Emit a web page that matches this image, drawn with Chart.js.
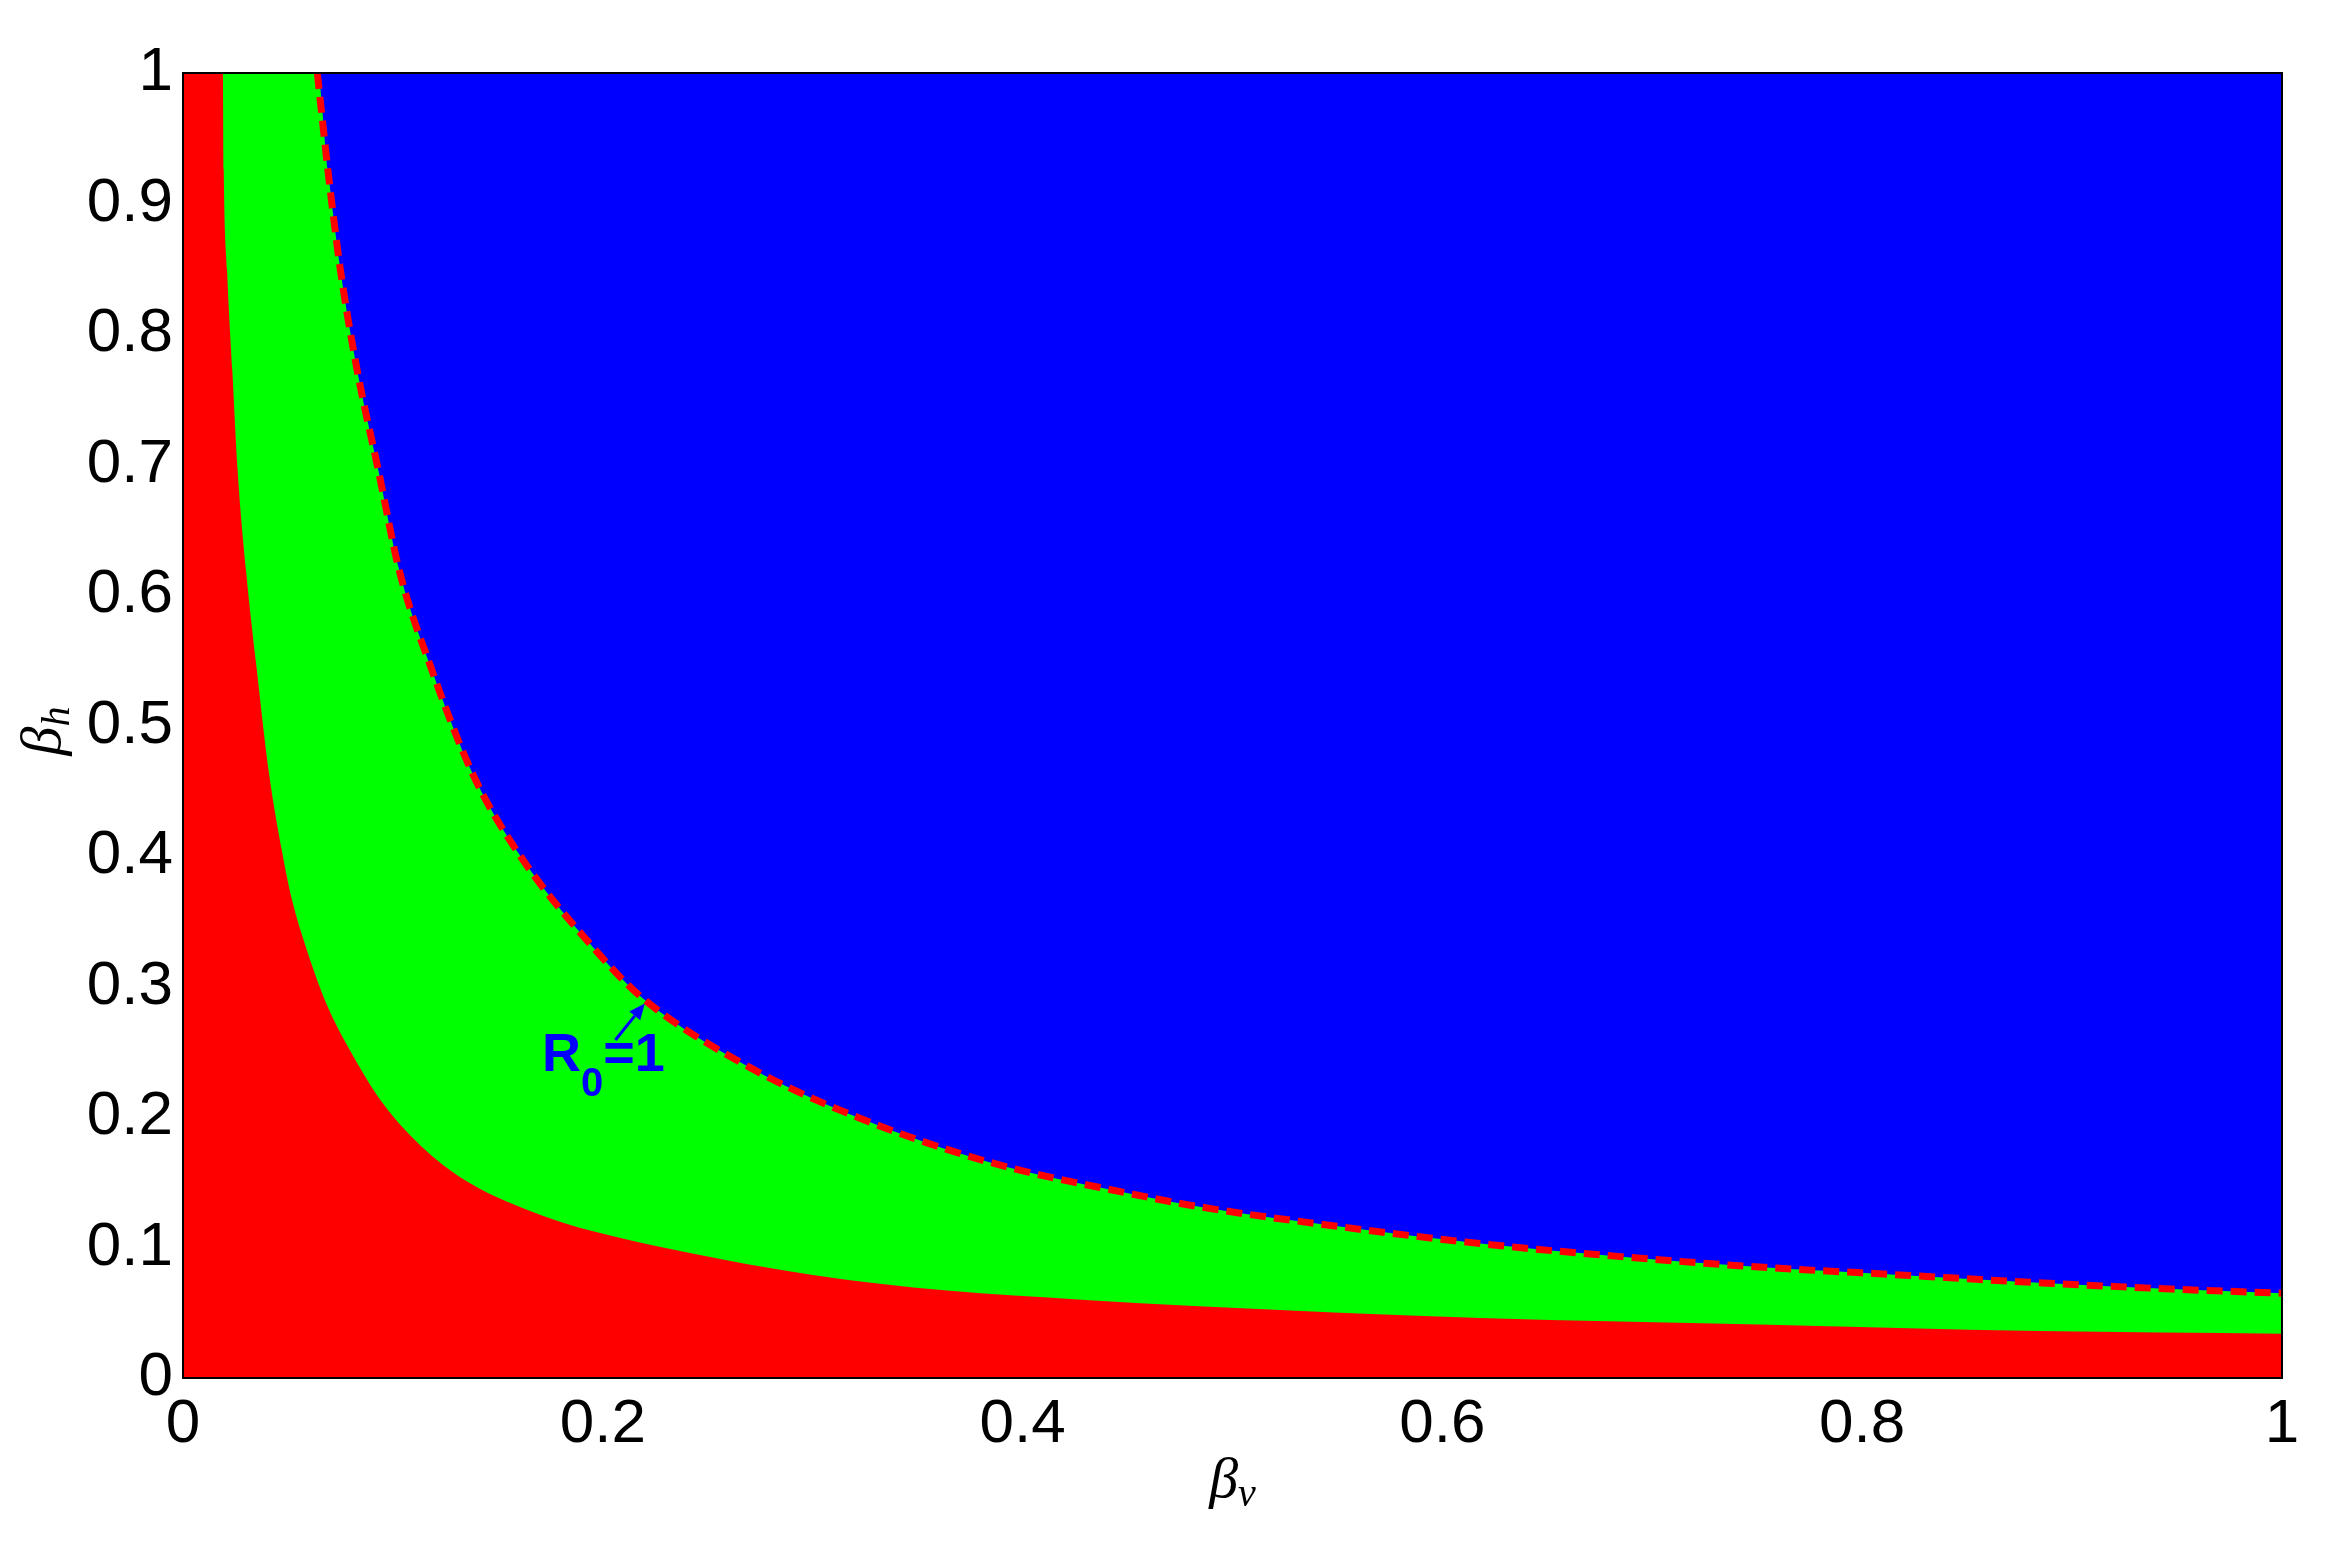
<!DOCTYPE html>
<html>
<head>
<meta charset="utf-8">
<script src="https://cdn.jsdelivr.net/npm/chart.js@4.4.1/dist/chart.umd.min.js"></script>
<style>
  html, body { margin: 0; padding: 0; background: #fff; }
</style>
</head>
<body>
<canvas id="regionChart" width="2344" height="1549"></canvas>
<script>
// R0 = 1 boundary (blue above, green below)
const bvUpper = [0.064, 0.069, 0.075, 0.083, 0.093, 0.103, 0.118, 0.138, 0.159, 0.197, 0.219,
                 0.270, 0.321, 0.385, 0.449, 0.485, 0.551, 0.618, 0.685, 0.751, 0.818, 0.884, 0.950, 1.0];
const bhUpper = [1.0, 0.926, 0.849, 0.772, 0.696, 0.619, 0.545, 0.463, 0.404, 0.327, 0.291,
                 0.238, 0.200, 0.165, 0.142, 0.131, 0.116, 0.103, 0.093, 0.085, 0.079, 0.073, 0.068, 0.065];

// lower boundary (green above, red below)
const bvLower = [0.019, 0.0194, 0.021, 0.0235, 0.026, 0.030, 0.035, 0.041, 0.047, 0.052, 0.059, 0.068,
                 0.081, 0.095, 0.116, 0.137, 0.172, 0.194, 0.238, 0.300, 0.364, 0.428, 0.484, 0.618,
                 0.751, 0.884, 1.0];
const bhLower = [1.0, 0.926, 0.849, 0.772, 0.696, 0.619, 0.545, 0.463, 0.405, 0.366, 0.328, 0.288,
                 0.247, 0.211, 0.174, 0.149, 0.124, 0.113, 0.097, 0.079, 0.067, 0.060, 0.055, 0.046,
                 0.041, 0.036, 0.034];

const xTicks = [0, 0.2, 0.4, 0.6, 0.8, 1];
const xTickLabels = ['0', '0.2', '0.4', '0.6', '0.8', '1'];
const yTicks = [0, 0.1, 0.2, 0.3, 0.4, 0.5, 0.6, 0.7, 0.8, 0.9, 1];
const yTickLabels = ['0', '0.1', '0.2', '0.3', '0.4', '0.5', '0.6', '0.7', '0.8', '0.9', '1'];

// annotation "R0=1" with arrow, in data units
const noteAt = { x: 0.171, y: 0.235 };
const arrowFrom = { x: 0.206, y: 0.259 };
const arrowTo = { x: 0.220, y: 0.287 };

const xMin = 0, xMax = 1, yMin = 0, yMax = 1;

const toPts = (xs, ys) => xs.map((x, i) => ({ x: x, y: ys[i] }));
const upperPts = toPts(bvUpper, bhUpper);
const lowerPts = toPts(bvLower, bhLower);

// beta with a subscript, optionally rotated
function drawBeta(ctx, sub, cx, baseY, rotate) {
  ctx.save();
  ctx.translate(cx, baseY);
  if (rotate) ctx.rotate(-Math.PI / 2);
  ctx.fillStyle = '#000';
  ctx.textBaseline = 'alphabetic';
  ctx.font = 'italic 58px "Liberation Serif"';
  const wb = ctx.measureText('\u03B2').width;
  ctx.font = 'italic 40px "Liberation Serif"';
  const ws = ctx.measureText(sub).width;
  const x0 = -(wb + ws) / 2;
  ctx.font = 'italic 58px "Liberation Serif"';
  ctx.fillText('\u03B2', x0, 0);
  ctx.font = 'italic 40px "Liberation Serif"';
  ctx.fillText(sub, x0 + wb, 9);
  ctx.restore();
}

const extras = {
  id: 'extras',
  afterDatasetsDraw(chart) {
    const { ctx, chartArea: a, scales: { x, y } } = chart;
    // frame
    ctx.save();
    ctx.strokeStyle = '#000';
    ctx.lineWidth = 2;
    ctx.strokeRect(a.left, a.top, a.right - a.left, a.bottom - a.top);

    // arrow
    const x1 = x.getPixelForValue(arrowFrom.x), y1 = y.getPixelForValue(arrowFrom.y);
    const x2 = x.getPixelForValue(arrowTo.x), y2 = y.getPixelForValue(arrowTo.y);
    const ang = Math.atan2(y2 - y1, x2 - x1);
    const head = 16, half = 7;
    const bx = x2 - head * Math.cos(ang), by = y2 - head * Math.sin(ang);
    ctx.strokeStyle = '#0000FF';
    ctx.fillStyle = '#0000FF';
    ctx.lineWidth = 3;
    ctx.beginPath();
    ctx.moveTo(x1, y1);
    ctx.lineTo(bx, by);
    ctx.stroke();
    ctx.beginPath();
    ctx.moveTo(x2, y2);
    ctx.lineTo(bx + half * Math.sin(ang), by - half * Math.cos(ang));
    ctx.lineTo(bx - half * Math.sin(ang), by + half * Math.cos(ang));
    ctx.closePath();
    ctx.fill();

    // R0=1 label
    const tx = x.getPixelForValue(noteAt.x), ty = y.getPixelForValue(noteAt.y);
    ctx.textBaseline = 'alphabetic';
    ctx.textAlign = 'left';
    ctx.font = 'bold 54px "Liberation Sans"';
    ctx.fillText('R', tx, ty);
    const wR = ctx.measureText('R').width;
    ctx.font = 'bold 40px "Liberation Sans"';
    ctx.fillText('0', tx + wR, ty + 25);
    const w0 = ctx.measureText('0').width;
    ctx.font = 'bold 54px "Liberation Sans"';
    ctx.fillText('=1', tx + wR + w0, ty);
    ctx.restore();
  },
  afterDraw(chart) {
    const { ctx, chartArea: a } = chart;
    drawBeta(ctx, 'v', (a.left + a.right) / 2, 1497, false);
    drawBeta(ctx, 'h', 60, 731, true);
  }
};

const ctx = document.getElementById('regionChart').getContext('2d');

new Chart(ctx, {
  type: 'line',
  data: {
    datasets: [
      {
        label: 'blue',
        data: [{ x: xMin, y: yMax }, { x: xMax, y: yMax }],
        backgroundColor: '#0000FF',
        borderWidth: 0,
        pointRadius: 0,
        fill: 'origin',
        order: 4
      },
      {
        label: 'green',
        data: [{ x: xMin, y: yMax }].concat(upperPts),
        backgroundColor: '#00FF00',
        borderWidth: 0,
        pointRadius: 0,
        cubicInterpolationMode: 'monotone',
        fill: 'origin',
        order: 3
      },
      {
        label: 'red',
        data: [{ x: xMin, y: yMax }].concat(lowerPts),
        backgroundColor: '#FF0000',
        borderWidth: 0,
        pointRadius: 0,
        cubicInterpolationMode: 'monotone',
        fill: 'origin',
        order: 2
      },
      {
        label: 'R0=1',
        data: upperPts,
        borderColor: '#FF0000',
        borderWidth: 7,
        borderDash: [16, 8],
        pointRadius: 0,
        cubicInterpolationMode: 'monotone',
        fill: false,
        order: 1
      }
    ]
  },
  options: {
    responsive: false,
    animation: false,
    layout: { padding: { top: 73, right: 62, left: 0, bottom: 0 } },
    plugins: {
      legend: { display: false },
      tooltip: { enabled: false }
    },
    scales: {
      x: {
        type: 'linear',
        min: xMin,
        max: xMax,
        afterBuildTicks: (s) => { s.ticks = xTicks.map(v => ({ value: v })); },
        afterFit: (s) => { s.height = 171; },
        grid: { display: false, drawTicks: false },
        border: { display: false },
        ticks: {
          padding: 10,
          color: '#000',
          maxRotation: 0,
          font: { family: 'Liberation Sans', size: 62 },
          callback: (v) => xTickLabels[xTicks.indexOf(v)]
        }
      },
      y: {
        type: 'linear',
        min: yMin,
        max: yMax,
        afterBuildTicks: (s) => { s.ticks = yTicks.map(v => ({ value: v })); },
        afterFit: (s) => { s.width = 183; },
        grid: { display: false, drawTicks: false },
        border: { display: false },
        ticks: {
          padding: 10,
          color: '#000',
          font: { family: 'Liberation Sans', size: 62 },
          callback: (v) => yTickLabels[yTicks.indexOf(v)]
        }
      }
    }
  },
  plugins: [extras]
});
</script>
</body>
</html>
